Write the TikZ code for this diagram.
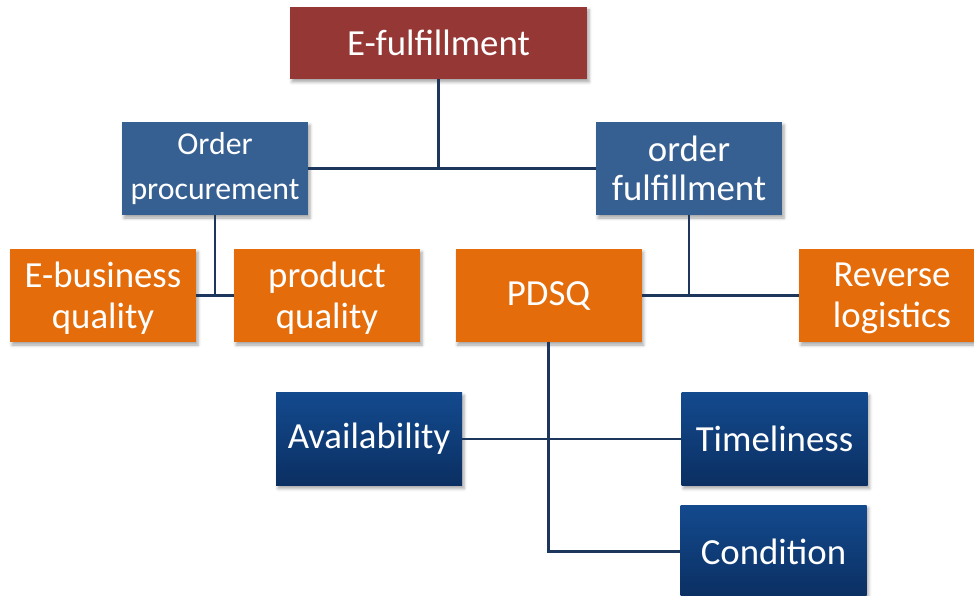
\documentclass[tikz,border=0pt]{standalone}
\usepackage{fontspec}
\setmainfont{Carlito}
\usetikzlibrary{shadows.blur}
\definecolor{rootred}{HTML}{953735}
\definecolor{midblue}{HTML}{376092}
\definecolor{leaforange}{HTML}{E46C0A}
\definecolor{navytop}{HTML}{134A8E}
\definecolor{navybot}{HTML}{0B2F62}
\definecolor{wire}{HTML}{1C365C}
\tikzset{
  box/.style={draw=none, inner sep=0pt, text=white, align=center,
    minimum width=186pt, minimum height=93pt,
    font=\fontsize{36.8}{41}\selectfont,
    blur shadow={shadow xshift=2pt, shadow yshift=-3pt, shadow opacity=35, shadow blur radius=3pt}},
  rootbox/.style={box, fill=rootred, minimum width=297pt, minimum height=72pt},
  midbox/.style={box, fill=midblue},
  leafbox/.style={box, fill=leaforange},
  twoline/.style={text depth=0pt},
  navybox/.style={box, top color=navytop, bottom color=navybot},
  wire/.style={draw=wire, line width=2.1pt}
}
\begin{document}
\begin{tikzpicture}[x=1pt, y=-1pt]
\useasboundingbox (0,0) rectangle (974,596);
% junction points of the tree
\coordinate (j1) at (438.5,168.5);
\coordinate (j2) at (215,295.5);
\coordinate (j3) at (689,295.5);
% boxes
\node[rootbox] (ef) at (438.5,43) {E-fulfillment};
\node[midbox, font=\fontsize{31.8}{45}\selectfont] (op) at (215,168.5) {Order\\procurement};
\node[midbox, font=\fontsize{36.8}{39}\selectfont] (of) at (689,168.5) {order\\fulfillment};
\node[leafbox, twoline] (eb) at (103,295.5) {E-business\\quality};
\node[leafbox, twoline] (pq) at (327,295.5) {product\\quality};
\node[leafbox] (pd) at (548.5,295.5) {PDSQ};
\node[leafbox, twoline] (rl) at (892,295.5) {Reverse\\logistics};
\node[navybox] (av) at (369,439) {Availability};
\node[navybox] (tl) at (774.5,439) {Timeliness};
\node[navybox] (cd) at (773.5,551.5) {Condition};
% tree lines
\draw[wire] (ef.south) -- (j1);
\draw[wire] (op.east) -- (of.west);
\draw[wire] (op.south) -- (j2);
\draw[wire] (eb.east) -- (pq.west);
\draw[wire] (of.south) -- (j3);
\draw[wire] (pd.east) -- (rl.west);
\draw[wire] (av.east) -- (tl.west);
\draw[wire] (pd.south) |- (cd.west);
\end{tikzpicture}
\end{document}
